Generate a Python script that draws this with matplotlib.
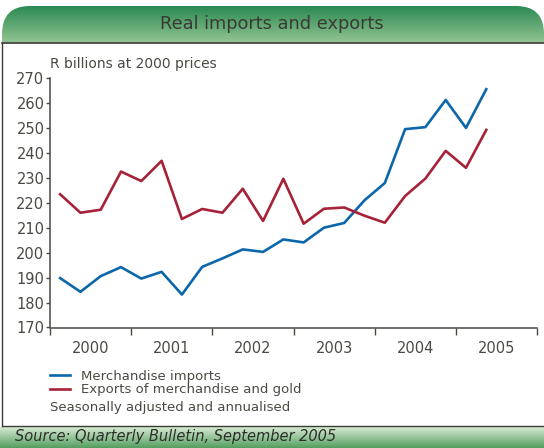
import numpy as np
import matplotlib
matplotlib.use("Agg")
import matplotlib.pyplot as plt
from matplotlib.patches import FancyBboxPatch

# ---- data (quarterly, R billions at 2000 prices) ----
quarters = np.arange(2000.125, 2005.5, 0.25)          # 2000Q1 .. 2005Q2
imports = [189.8, 184.3, 190.6, 194.2, 189.6, 192.3, 183.2, 194.3, 197.7, 201.3, 200.3,
           205.3, 204.1, 210.0, 211.9, 221.0, 227.9, 249.5, 250.3, 261.2, 250.0, 265.5]
exports = [223.4, 216.0, 217.2, 232.5, 228.7, 236.8, 213.5, 217.5, 216.0, 225.6, 212.7,
           229.6, 211.6, 217.6, 218.1, 214.8, 212.0, 222.7, 229.7, 240.8, 234.0, 249.2]
year_labels = ["2000", "2001", "2002", "2003", "2004", "2005"]
yticks = np.arange(170, 271, 10)

W, H = 544, 448
BLUE, RED, GREY = "#0b67a9", "#a52238", "#4a4a44"

fig = plt.figure(figsize=(W / 100, H / 100), dpi=100)

# ---- frame: header banner, box, source bar (pixel coords) ----
bg = fig.add_axes([0, 0, 1, 1])
bg.set_xlim(0, W); bg.set_ylim(H, 0); bg.axis("off")

grad = np.linspace(0, 1, 64)[:, None]
hdr = np.array([[0.17, 0.54, 0.32]]) * (1 - grad) + np.array([[0.58, 0.77, 0.58]]) * grad
hdr_img = bg.imshow(hdr[:, None, :], extent=(2, W, 43, 6), aspect="auto", zorder=1)
clip = FancyBboxPatch((2, 6), W - 2, 80, boxstyle="round,pad=0,rounding_size=28",
                      transform=bg.transData, fc="none", ec="none")
bg.add_patch(clip)
hdr_img.set_clip_path(clip)

src = np.array([[0.84, 0.92, 0.82]]) * (1 - grad) + np.array([[0.33, 0.62, 0.38]]) * grad
bg.imshow(src[:, None, :], extent=(0, W, H, 427), aspect="auto", zorder=1)

bg.plot([2, W], [43, 43], color="#3c3c36", lw=1.2, zorder=2)
bg.plot([2, 2], [43, 426], color="#3c3c36", lw=1.0, zorder=2)
bg.plot([2, W], [426, 426], color="#3c3c36", lw=1.0, zorder=2)

bg.text(W / 2, 24, "Real imports and exports", ha="center", va="center",
        fontsize=12.8, color="#3a3a34", zorder=3)
bg.text(15, 437, "Source: Quarterly Bulletin, September 2005", ha="left", va="center",
        fontsize=10.5, style="italic", color="#2e2e2a", zorder=3)
bg.text(50, 64, "R billions at 2000 prices", ha="left", va="center",
        fontsize=10, color=GREY, zorder=3)
bg.text(50, 407, "Seasonally adjusted and annualised", ha="left", va="center",
        fontsize=9.5, color=GREY, zorder=3)

# ---- chart ----
ax = fig.add_axes([50 / W, (H - 327.5) / H, (537 - 50) / W, (327.5 - 78) / H])
ax.patch.set_alpha(0)
l1, = ax.plot(quarters, imports, color=BLUE, lw=1.9, label="Merchandise imports")
l2, = ax.plot(quarters, exports, color=RED, lw=1.9, label="Exports of merchandise and gold")

ax.set_xlim(2000, 2006)
ax.set_ylim(170, 270)
ax.set_yticks(yticks)
ax.set_xticks(np.arange(2000, 2007))
ax.set_xticklabels([])
ax.set_xticks(np.arange(2000.5, 2006, 1), minor=True)
ax.set_xticklabels(year_labels, minor=True)
ax.tick_params(axis="x", which="minor", length=0, pad=10, labelsize=10.5, labelcolor=GREY)
ax.tick_params(axis="x", which="major", length=5, width=1, color=GREY)
ax.tick_params(axis="y", length=3, width=1, color=GREY, labelsize=10.5, labelcolor=GREY, pad=1)
for s in ("top", "right"):
    ax.spines[s].set_visible(False)
for s in ("left", "bottom"):
    ax.spines[s].set_color(GREY)
    ax.spines[s].set_linewidth(1.1)

fig.legend(handles=[l1, l2], loc="upper left", bbox_to_anchor=(43 / W, (H - 363) / H),
           frameon=False, fontsize=9.5, handlelength=1.55, handletextpad=0.8,
           labelspacing=0.05, borderpad=0, labelcolor=GREY)

fig.savefig("out.png", dpi=100)
